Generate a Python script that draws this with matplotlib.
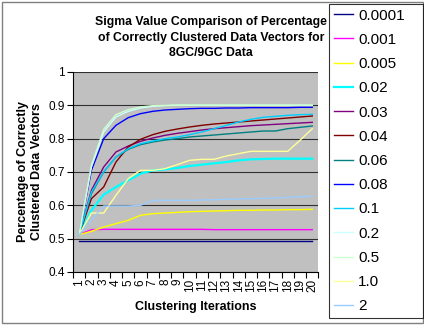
import matplotlib
matplotlib.use('Agg')
import matplotlib.pyplot as plt
from matplotlib.patches import Rectangle

plt.rcParams['font.family'] = ['Liberation Sans', 'DejaVu Sans']

# ── Data ──
iterations = list(range(1, 21))
sigma_labels = ['0.0001', '0.001', '0.005', '0.02', '0.03', '0.04', '0.06',
                '0.08', '0.1', '0.2', '0.5', '1.0', '2']

s_0001 = [0.493, 0.493, 0.493, 0.493, 0.493, 0.493, 0.493, 0.493, 0.493, 0.493,
          0.493, 0.493, 0.493, 0.493, 0.493, 0.493, 0.493, 0.493, 0.493, 0.493]
s_001 = [0.512, 0.527, 0.528, 0.528, 0.528, 0.528, 0.528, 0.528, 0.528, 0.528,
         0.528, 0.527, 0.527, 0.527, 0.527, 0.527, 0.527, 0.527, 0.527, 0.527]
s_005 = [0.512, 0.522, 0.535, 0.545, 0.555, 0.570, 0.575, 0.577, 0.579, 0.581,
         0.582, 0.583, 0.584, 0.585, 0.585, 0.586, 0.586, 0.587, 0.587, 0.588]
s_02 = [0.512, 0.585, 0.632, 0.655, 0.675, 0.695, 0.705, 0.708, 0.712, 0.718,
        0.722, 0.726, 0.730, 0.735, 0.738, 0.739, 0.740, 0.740, 0.740, 0.740]
s_03 = [0.512, 0.645, 0.715, 0.760, 0.778, 0.792, 0.802, 0.810, 0.816, 0.821,
        0.826, 0.830, 0.833, 0.836, 0.839, 0.841, 0.843, 0.845, 0.847, 0.849]
s_04 = [0.512, 0.620, 0.655, 0.730, 0.775, 0.798, 0.812, 0.822, 0.829, 0.835,
        0.840, 0.844, 0.847, 0.850, 0.853, 0.856, 0.859, 0.862, 0.865, 0.868]
s_06 = [0.512, 0.635, 0.700, 0.745, 0.768, 0.782, 0.790, 0.796, 0.800, 0.805,
        0.808, 0.811, 0.814, 0.817, 0.820, 0.823, 0.823, 0.830, 0.834, 0.838]
s_08 = [0.512, 0.705, 0.800, 0.840, 0.863, 0.875, 0.882, 0.886, 0.888, 0.890,
        0.891, 0.891, 0.892, 0.892, 0.893, 0.893, 0.893, 0.893, 0.894, 0.894]
s_1 = [0.512, 0.640, 0.700, 0.745, 0.770, 0.785, 0.793, 0.800, 0.805, 0.812,
       0.820, 0.830, 0.840, 0.850, 0.858, 0.864, 0.867, 0.870, 0.872, 0.873]
s_2 = [0.512, 0.715, 0.820, 0.865, 0.882, 0.892, 0.897, 0.899, 0.900, 0.900,
       0.900, 0.900, 0.900, 0.900, 0.900, 0.900, 0.900, 0.900, 0.900, 0.900]
s_5 = [0.512, 0.720, 0.828, 0.872, 0.887, 0.895, 0.899, 0.900, 0.901, 0.901,
       0.901, 0.901, 0.901, 0.901, 0.901, 0.901, 0.901, 0.901, 0.901, 0.901]
s_10 = [0.512, 0.577, 0.577, 0.630, 0.680, 0.705, 0.705, 0.710, 0.722, 0.735,
        0.738, 0.738, 0.748, 0.755, 0.762, 0.762, 0.762, 0.762, 0.795, 0.830]
s_20 = [0.512, 0.555, 0.598, 0.598, 0.598, 0.600, 0.615, 0.615, 0.615, 0.615,
        0.616, 0.617, 0.618, 0.619, 0.620, 0.621, 0.622, 0.624, 0.626, 0.627]

series = [s_0001, s_001, s_005, s_02, s_03, s_04, s_06, s_08, s_1, s_2, s_5, s_10, s_20]
# Excel 2003 default line colours
colors = ['#000080', '#FF00FF', '#FFFF00', '#00FFFF', '#800080', '#800000', '#008080',
          '#0000FF', '#00CCFF', '#CCFFFF', '#CCFFCC', '#FFFF99', '#99CCFF']
widths = [1.0, 1.0, 1.0, 1.6, 1.0, 1.0, 1.0, 1.0, 1.0, 1.0, 1.0, 1.0, 1.0]

y_ticks = [0.4, 0.5, 0.6, 0.7, 0.8, 0.9, 1.0]
y_ticklabels = ['0.4', '0.5', '0.6', '0.7', '0.8', '0.9', '1']

fig = plt.figure(figsize=(4.24, 3.29), dpi=100)
ax = fig.add_axes([73 / 424, 1 - 272 / 329, (318.4 - 73) / 424, (272 - 72) / 329])
ax.set_facecolor('#C0C0C0')

for vals, col, lw, lab in zip(series, colors, widths, sigma_labels):
    ax.plot(iterations, vals, color=col, linewidth=lw, label=lab, zorder=3)

ax.set_xlim(0.5, 20.5)
ax.set_ylim(0.4, 1.0)
ax.set_yticks(y_ticks)
ax.set_yticklabels(y_ticklabels, fontsize=8.5)
ax.yaxis.grid(True, color='#303030', linewidth=0.8)
ax.set_axisbelow(True)

ax.set_xticks(iterations)
ax.set_xticklabels([str(i) for i in iterations], rotation=90, fontsize=8.5)
ax.tick_params(axis='x', which='major', length=0, pad=5)
ax.set_xticks([i + 0.5 for i in range(0, 21)], minor=True)
ax.tick_params(axis='x', which='minor', length=4, color='black', width=0.8)
ax.tick_params(axis='y', length=4, width=0.8, pad=2)

for side in ['top', 'right']:
    ax.spines[side].set_visible(False)
for side in ['left', 'bottom']:
    ax.spines[side].set_color('black')
    ax.spines[side].set_linewidth(0.8)

ax.set_xlabel('Clustering Iterations', fontsize=9, fontweight='bold', labelpad=6)
ax.set_ylabel('Percentage of Correctly\nClustered Data Vectors', fontsize=9,
              fontweight='bold', labelpad=4, linespacing=1.2)

fig.text(211 / 424, 1 - 16 / 329,
         'Sigma Value Comparison of Percentage\nof Correctly Clustered Data Vectors for\n8GC/9GC Data',
         ha='center', va='top', fontsize=8.8, fontweight='bold', linespacing=1.4)

leg = fig.legend(loc='upper left', bbox_to_anchor=(329 / 424, 1 - 4 / 329, 94 / 424, 0),
                 mode='expand', fontsize=11, frameon=True, fancybox=False,
                 edgecolor='black', handlelength=1.3, handletextpad=0.3,
                 labelspacing=0.67, borderpad=0.3, borderaxespad=0)
leg.get_frame().set_linewidth(0.8)

# outer chart border
fig.patches.append(Rectangle((1.5 / 424, 6 / 329), 421 / 424, 321 / 329,
                             transform=fig.transFigure, fill=False,
                             edgecolor='#808080', linewidth=1.0))

fig.savefig('out.png', dpi=100)
